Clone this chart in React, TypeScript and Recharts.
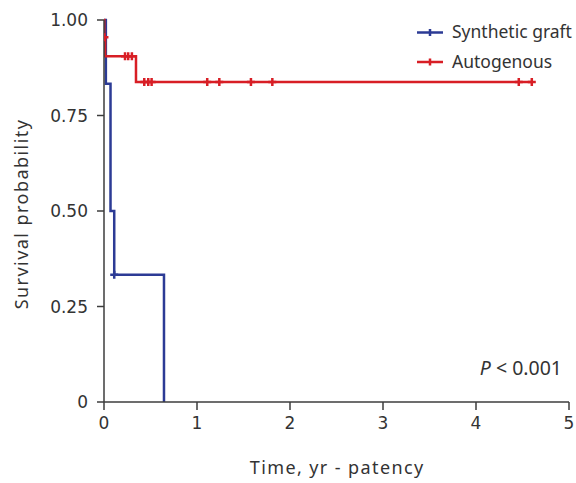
import React from "react";
import {
  ComposedChart,
  Line,
  Scatter,
  XAxis,
  YAxis,
  Customized,
} from "recharts";

const xTicks = [0, 1, 2, 3, 4, 5];
const yTicks = [0, 0.25, 0.5, 0.75, 1];

// Kaplan-Meier step points (time in years, survival probability)
const syntheticTimes = [0, 0.02, 0.07, 0.11, 0.645];
const syntheticSurv = [1, 0.833, 0.5, 0.333, 0];
const syntheticCensorTimes = [0.11];
const syntheticCensorSurv = [0.333];

const autoTimes = [0, 0.003, 0.012, 0.344, 4.6];
const autoSurv = [1, 0.955, 0.905, 0.838, 0.838];
const autoCensorTimes = [0.005, 0.226, 0.26, 0.3, 0.433, 0.476, 0.512, 1.11, 1.24, 1.58, 1.81, 4.46, 4.6];
const autoCensorSurv = [0.955, 0.905, 0.905, 0.905, 0.838, 0.838, 0.838, 0.838, 0.838, 0.838, 0.838, 0.838, 0.838];

const seriesNames = ["Synthetic graft", "Autogenous"];

const BLUE = "#2C3B95";
const RED = "#D81E25";
const AXIS = "#3c3c3c";
const TEXT = "#333333";
const FONT = "'Noto Sans', sans-serif";
const TICK_FONT = "'DejaVu Sans', sans-serif";

const zip = (ts: number[], ss: number[]) => ts.map((t, i) => ({ t, s: ss[i] }));

const synData = zip(syntheticTimes, syntheticSurv);
const synCensor = zip(syntheticCensorTimes, syntheticCensorSurv);
const autoData = zip(autoTimes, autoSurv);
const autoCensor = zip(autoCensorTimes, autoCensorSurv);

const seriesColors = [BLUE, RED];

const plus = (color: string) => (props: any) => {
  const { cx, cy } = props;
  return (
    <path
      d={`M${cx - 4},${cy}H${cx + 4}M${cx},${cy - 4}V${cy + 4}`}
      stroke={color}
      strokeWidth={2.5}
      fill="none"
    />
  );
};

const LegendSvg = () => (
  <g>
    {seriesNames.map((name, i) => {
      const y = 32.5 + i * 29.5;
      return (
        <g key={name}>
          <path
            d={`M417,${y}H443M430,${y - 3.5}V${y + 3.5}`}
            stroke={seriesColors[i]}
            strokeWidth={2.5}
            fill="none"
          />
          <text x={452} y={y + 5.8} fontFamily={FONT} fontSize={17.5} fill={TEXT}>
            {name}
          </text>
        </g>
      );
    })}
  </g>
);

const PText = () => (
  <text x={562} y={375} textAnchor="end" fontFamily={FONT} fontSize={19.5} fill={TEXT}>
    <tspan fontStyle="italic">P</tspan>
    <tspan> &lt; 0.001</tspan>
  </text>
);

const XLabel = (props: any) => {
  const { viewBox } = props;
  const cx = viewBox.x + viewBox.width / 2 + 0.7;
  return (
    <text
      x={cx}
      y={474}
      textAnchor="middle"
      fontFamily={FONT}
      fontSize={18}
      letterSpacing={1.4}
      fill={TEXT}
    >
      Time, yr - patency
    </text>
  );
};

const YLabel = () => {
  const cy = 214;
  const x = 28;
  return (
    <text
      x={x}
      y={cy}
      textAnchor="middle"
      transform={`rotate(-90 ${x} ${cy})`}
      fontFamily={FONT}
      fontSize={18}
      letterSpacing={1.45}
      fill={TEXT}
    >
      Survival probability
    </text>
  );
};

export default function App() {
  return (
    <div style={{ position: "absolute", left: 0, top: 0, background: "#fff" }}>
      <ComposedChart
        width={576}
        height={483}
        margin={{ top: 20, right: 7, left: 0, bottom: 0 }}
      >
        <XAxis
          type="number"
          dataKey="t"
          domain={[0, 5]}
          ticks={xTicks}
          allowDataOverflow
          height={81}
          tickSize={8}
          tickMargin={7}
          stroke={AXIS}
          strokeWidth={1.5}
          tick={{ fill: TEXT, fontSize: 17, fontFamily: TICK_FONT }}
          label={{ content: XLabel }}
        />
        <YAxis
          type="number"
          dataKey="s"
          domain={[0, 1]}
          ticks={yTicks}
          width={104}
          tickSize={7}
          tickMargin={9}
          stroke={AXIS}
          strokeWidth={1.5}
          tickFormatter={(v: number) => (v === 0 ? "0" : v.toFixed(2))}
          tick={{ fill: TEXT, fontSize: 17, fontFamily: TICK_FONT }}
          label={{ content: YLabel }}
        />
        <Line
          data={synData}
          dataKey="s"
          type="stepAfter"
          stroke={BLUE}
          strokeWidth={2.5}
          dot={false}
          activeDot={false}
          isAnimationActive={false}
          name="Synthetic graft"
        />
        <Line
          data={autoData}
          dataKey="s"
          type="stepAfter"
          stroke={RED}
          strokeWidth={2.5}
          dot={false}
          activeDot={false}
          isAnimationActive={false}
          name="Autogenous"
        />
        <Scatter data={synCensor} dataKey="s" shape={plus(BLUE)} isAnimationActive={false} legendType="none" />
        <Scatter data={autoCensor} dataKey="s" shape={plus(RED)} isAnimationActive={false} legendType="none" />
        <Customized component={LegendSvg} />
        <Customized component={PText} />
      </ComposedChart>
    </div>
  );
}
